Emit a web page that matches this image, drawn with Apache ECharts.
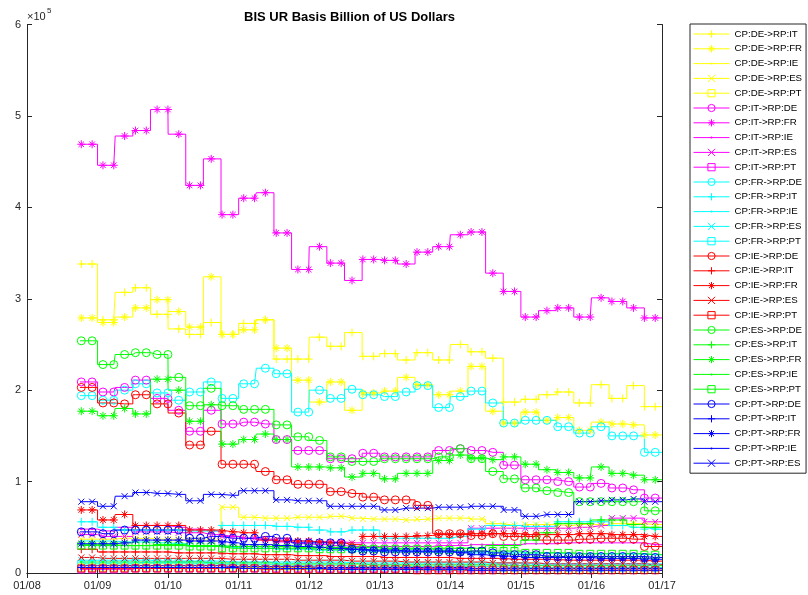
<!DOCTYPE html>
<html>
<head>
<meta charset="utf-8">
<script src="https://cdn.jsdelivr.net/npm/echarts@6/dist/echarts.min.js"></script>
<style>
  html, body { margin: 0; padding: 0; background: #fff; }
  #main { width: 808px; height: 595px; }
</style>
</head>
<body>
<div id="main"></div>
<script>
// 季度起点 (年), 2008Q3 .. 2016Q3, 最后一段延续到 2017
var quarters = [2008.75, 2009, 2009.25, 2009.5, 2009.75, 2010, 2010.25, 2010.5, 2010.75,
  2011, 2011.25, 2011.5, 2011.75, 2012, 2012.25, 2012.5, 2012.75, 2013, 2013.25, 2013.5,
  2013.75, 2014, 2014.25, 2014.5, 2014.75, 2015, 2015.25, 2015.5, 2015.75, 2016, 2016.25,
  2016.5, 2016.75];
var dataEnd = 2017;
var yearTicks = [2008, 2009, 2010, 2011, 2012, 2013, 2014, 2015, 2016, 2017];

// 数值单位: 千 (axis shows x10^5)
var DE_IT = [338,277,307,312,283,267,261,274,261,273,277,234,234,258,248,263,237,240,233,241,233,250,242,235,187,190,195,198,186,206,191,205,182];
var DE_FR = [279,274,280,290,299,286,269,324,261,266,277,246,211,187,209,178,197,199,214,206,195,199,226,177,164,176,167,170,156,165,163,162,151];
var DE_IE = [10,10,10,10,10,10,10,10,9,9,9,9,9,9,9,9,8,8,8,8,8,8,8,8,8,8,8,8,8,8,8,8,8];
var DE_ES = [37,37,38,38,37,37,36,36,72,61,60,60,61,61,62,60,59,59,58,59,60,60,59,54,52,53,53,52,53,53,54,54,53];
var DE_PT = [6,6,6,6,6,6,6,6,6,6,6,6,6,6,6,6,6,5,5,5,5,5,5,5,5,5,5,5,5,5,5,5,5];
var IT_DE = [209,198,203,211,191,178,155,178,163,165,163,146,134,134,125,125,131,127,127,127,134,136,134,132,118,102,102,100,94,98,93,91,82];
var IT_FR = [469,446,478,484,507,480,424,453,392,410,416,372,332,357,339,320,343,342,338,351,357,370,373,328,308,280,287,290,280,301,297,290,279];
var IT_IE = [48,46,50,52,52,50,48,46,40,38,36,34,32,31,30,29,29,29,29,29,30,30,31,31,31,32,32,33,33,33,33,33,31];
var IT_ES = [42,40,40,45,45,44,44,42,40,38,37,36,35,34,34,33,33,33,33,33,33,33,49,49,49,49,49,49,50,52,60,60,56];
var IT_PT = [4,4,4,5,5,5,5,5,5,5,5,5,5,5,5,5,5,5,5,5,5,5,5,5,6,6,6,6,6,6,6,6,6];
var FR_DE = [194,189,200,207,197,189,198,209,191,207,224,218,176,200,191,201,195,193,198,205,181,193,199,186,164,167,167,160,153,160,150,150,132];
var FR_IT = [56,50,47,47,47,47,46,46,52,52,52,51,50,47,45,47,47,38,38,38,38,40,48,52,52,51,51,56,56,56,52,50,48];
var FR_IE = [35,35,34,34,33,32,30,30,28,27,27,26,26,25,25,24,24,24,24,23,23,23,22,22,22,22,22,21,21,21,21,21,20];
var FR_ES = [14,14,14,14,13,13,13,13,12,12,12,12,12,12,12,11,11,11,11,11,11,11,11,11,11,10,10,10,10,10,10,10,10];
var FR_PT = [10,10,10,11,11,11,10,10,9,9,9,8,8,8,8,7,7,7,7,7,7,7,7,7,6,6,6,6,6,6,6,6,6];
var IE_DE = [203,186,185,195,185,175,140,155,119,119,111,102,97,97,89,87,83,80,80,74,43,43,41,43,40,40,36,36,37,38,38,37,29];
var IE_IT = [26,23,23,23,23,22,22,22,21,21,20,20,19,19,18,18,18,17,17,17,17,16,16,16,15,15,15,14,14,14,14,14,13];
var IE_FR = [69,58,64,52,52,52,47,47,45,44,36,35,35,34,33,31,40,40,40,41,42,42,43,43,43,42,42,42,43,43,42,42,40];
var IE_ES = [17,16,16,16,16,16,16,16,15,15,15,15,14,14,14,13,13,13,12,12,12,12,12,11,11,11,10,10,10,10,10,10,9];
var IE_PT = [5,5,5,5,5,5,5,5,5,5,4,4,4,4,4,4,4,4,4,3,3,3,3,3,3,3,3,3,3,3,3,3,3];
var ES_DE = [254,228,239,241,239,214,183,202,183,179,179,162,149,145,127,122,122,125,125,125,127,136,125,111,103,93,90,88,78,78,78,78,68];
var ES_IT = [31,31,30,30,31,31,30,30,29,29,29,29,28,28,28,28,28,27,27,27,27,27,27,30,30,36,44,54,54,58,58,53,50];
var ES_FR = [177,172,180,174,212,200,166,184,141,146,152,146,116,116,115,105,109,103,109,109,123,129,126,124,127,119,113,110,104,116,109,107,102];
var ES_IE = [12,12,12,12,12,12,12,11,11,11,11,10,10,10,10,10,9,9,9,9,9,9,9,9,8,8,8,8,8,8,8,8,8];
var ES_PT = [30,30,30,30,30,30,29,29,27,27,27,27,27,26,26,26,26,26,26,26,25,24,24,24,24,22,22,22,21,21,21,21,20];
var PT_DE = [45,43,47,47,47,47,38,40,38,38,40,38,33,33,33,26,24,23,23,23,23,23,24,22,20,20,18,18,18,18,18,18,17];
var PT_IT = [6,6,6,6,6,6,6,6,6,5,5,5,5,5,4,4,4,4,4,4,4,4,3,3,3,3,3,3,3,3,3,3,3];
var PT_FR = [32,32,33,36,36,36,35,35,33,31,31,30,29,28,27,26,25,25,24,24,24,22,20,19,18,17,17,17,17,16,16,16,15];
var PT_IE = [8,8,8,8,8,8,8,8,7,7,7,7,7,6,6,6,6,6,6,6,6,6,5,5,5,5,5,5,5,5,5,5,5];
var PT_ES = [78,73,84,88,87,86,79,86,85,90,90,80,79,79,73,73,73,69,71,71,72,72,73,73,69,62,64,64,78,79,80,81,78];

var seriesList = [
  ['CP:DE->RP:IT', 'DE', 'IT', DE_IT], ['CP:DE->RP:FR', 'DE', 'FR', DE_FR],
  ['CP:DE->RP:IE', 'DE', 'IE', DE_IE], ['CP:DE->RP:ES', 'DE', 'ES', DE_ES],
  ['CP:DE->RP:PT', 'DE', 'PT', DE_PT],
  ['CP:IT->RP:DE', 'IT', 'DE', IT_DE], ['CP:IT->RP:FR', 'IT', 'FR', IT_FR],
  ['CP:IT->RP:IE', 'IT', 'IE', IT_IE], ['CP:IT->RP:ES', 'IT', 'ES', IT_ES],
  ['CP:IT->RP:PT', 'IT', 'PT', IT_PT],
  ['CP:FR->RP:DE', 'FR', 'DE', FR_DE], ['CP:FR->RP:IT', 'FR', 'IT', FR_IT],
  ['CP:FR->RP:IE', 'FR', 'IE', FR_IE], ['CP:FR->RP:ES', 'FR', 'ES', FR_ES],
  ['CP:FR->RP:PT', 'FR', 'PT', FR_PT],
  ['CP:IE->RP:DE', 'IE', 'DE', IE_DE], ['CP:IE->RP:IT', 'IE', 'IT', IE_IT],
  ['CP:IE->RP:FR', 'IE', 'FR', IE_FR], ['CP:IE->RP:ES', 'IE', 'ES', IE_ES],
  ['CP:IE->RP:PT', 'IE', 'PT', IE_PT],
  ['CP:ES->RP:DE', 'ES', 'DE', ES_DE], ['CP:ES->RP:IT', 'ES', 'IT', ES_IT],
  ['CP:ES->RP:FR', 'ES', 'FR', ES_FR], ['CP:ES->RP:IE', 'ES', 'IE', ES_IE],
  ['CP:ES->RP:PT', 'ES', 'PT', ES_PT],
  ['CP:PT->RP:DE', 'PT', 'DE', PT_DE], ['CP:PT->RP:IT', 'PT', 'IT', PT_IT],
  ['CP:PT->RP:FR', 'PT', 'FR', PT_FR], ['CP:PT->RP:IE', 'PT', 'IE', PT_IE],
  ['CP:PT->RP:ES', 'PT', 'ES', PT_ES]
];

// 颜色按 CP, 标记按 RP
var colorMap = { DE: '#ffff00', IT: '#ff00ff', FR: '#00ffff', IE: '#ff0000', ES: '#00ff00', PT: '#0000ff' };
var markerMap = {
  DE: { symbol: 'path://M10,5A5,5 0 1,1 0,5A5,5 0 1,1 10,5Z', size: 8 },
  IT: { symbol: 'path://M5,0V10M0,5H10', size: 8 },
  FR: { symbol: 'path://M5,0V10M0,5H10M1.5,1.5L8.5,8.5M8.5,1.5L1.5,8.5', size: 8 },
  IE: { symbol: 'path://M0,0M10,10M3.6,5A1.4,1.4 0 1,1 6.4,5A1.4,1.4 0 1,1 3.6,5Z', size: 8, filled: true },
  ES: { symbol: 'path://M0,0L10,10M10,0L0,10', size: 6 },
  PT: { symbol: 'path://M0,0H10V10H0Z', size: 7 }
};

// 标记采样 (等距, 与季度台阶无关)
var markerFirst = 2008.7696, markerStep = 0.15348, markerCount = 54;
var markerTimes = [];
for (var m = 0; m < markerCount; m++) markerTimes.push(markerFirst + m * markerStep);

function valueAt(vals, t) {
  var k = 0;
  for (var i = 0; i < quarters.length; i++) {
    if (quarters[i] <= t + 1e-9) k = i;
  }
  return vals[k];
}

function buildData(vals) {
  var pts = [];
  quarters.forEach(function (q, i) {
    pts.push({ value: [q, vals[i]], symbol: 'none' });
  });
  pts.push({ value: [dataEnd, vals[vals.length - 1]], symbol: 'none' });
  markerTimes.forEach(function (t) {
    pts.push({ value: [t, valueAt(vals, t)] });
  });
  pts.sort(function (a, b) { return a.value[0] - b.value[0]; });
  return pts;
}

function initSeries() {
  return seriesList.map(function (s) {
    var c = colorMap[s[1]];
    var mk = markerMap[s[2]];
    return {
      name: s[0],
      type: 'line',
      step: 'end',
      data: buildData(s[3]),
      symbol: mk.symbol,
      symbolSize: mk.size,
      showSymbol: true,
      lineStyle: { color: c, width: 1 },
      itemStyle: mk.filled
        ? { color: c, borderWidth: 0 }
        : { color: 'none', borderColor: c, borderWidth: 1 },
      emphasis: { disabled: true }
    };
  });
}

var axisColor = '#262626';
var fontFamily = 'Liberation Sans, Arial, sans-serif';

function getOption() {
  return {
    animation: false,
    backgroundColor: '#fff',
    title: {
      text: 'BIS UR Basis Billion of US Dollars',
      left: 344.5,
      top: 6,
      textAlign: 'center',
      textStyle: { fontSize: 13, fontWeight: 'bold', color: '#000', fontFamily: fontFamily }
    },
    graphic: [
      { type: 'text', left: 27, top: 11, style: { text: '×10', font: '11px ' + fontFamily, fill: axisColor } },
      { type: 'text', left: 47, top: 7, style: { text: '5', font: '8px ' + fontFamily, fill: axisColor } }
    ],
    legend: {
      orient: 'vertical',
      left: 690,
      top: 24,
      padding: [3, 4, 3, 3],
      itemWidth: 36,
      itemHeight: 9,
      itemGap: 0.8,
      borderColor: axisColor,
      borderWidth: 1,
      backgroundColor: '#fff',
      selectedMode: false,
      itemStyle: { borderWidth: 1 },
      lineStyle: { width: 1 },
      data: seriesList.map(function (s) { return s[0]; }),
      textStyle: { fontSize: 9.7, lineHeight: 14, color: '#000', fontFamily: fontFamily }
    },
    grid: { left: 27, right: 146, top: 24.5, bottom: 22, containLabel: false },
    xAxis: [
      {
        type: 'value', min: yearTicks[0], max: yearTicks[yearTicks.length - 1], interval: 1,
        position: 'bottom',
        axisLine: { lineStyle: { color: axisColor, width: 1 } },
        axisTick: { inside: true, length: 5, lineStyle: { color: axisColor } },
        splitLine: { show: false },
        axisLabel: {
          color: axisColor, fontSize: 11, fontFamily: fontFamily, margin: 7,
          formatter: function (v) { return '01/' + ('0' + (v % 100)).slice(-2); }
        }
      },
      {
        type: 'value', min: yearTicks[0], max: yearTicks[yearTicks.length - 1], interval: 1,
        position: 'top',
        axisLine: { lineStyle: { color: axisColor, width: 1 } },
        axisTick: { inside: true, length: 5, lineStyle: { color: axisColor } },
        splitLine: { show: false },
        axisLabel: { show: false }
      }
    ],
    yAxis: [
      {
        type: 'value', min: 0, max: 600, interval: 100,
        position: 'left',
        axisLine: { show: true, lineStyle: { color: axisColor, width: 1 } },
        axisTick: { show: true, inside: true, length: 5, lineStyle: { color: axisColor } },
        splitLine: { show: false },
        axisLabel: {
          color: axisColor, fontSize: 11, fontFamily: fontFamily, margin: 6,
          formatter: function (v) { return String(v / 100); }
        }
      },
      {
        type: 'value', min: 0, max: 600, interval: 100,
        position: 'right',
        axisLine: { show: true, lineStyle: { color: axisColor, width: 1 } },
        axisTick: { show: true, inside: true, length: 5, lineStyle: { color: axisColor } },
        splitLine: { show: false },
        axisLabel: { show: false }
      }
    ],
    series: initSeries()
  };
}

var myChart = echarts.init(document.getElementById('main'), null, { renderer: 'canvas' });
myChart.setOption(getOption());
</script>
</body>
</html>
